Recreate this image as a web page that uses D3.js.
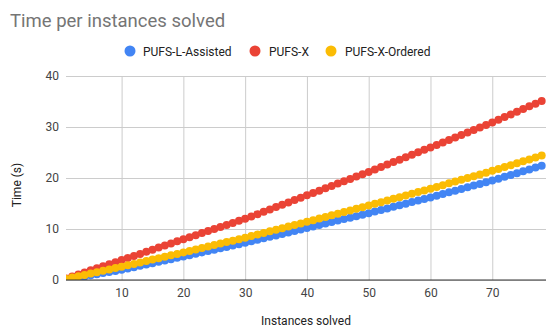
<!DOCTYPE html>
<html>
<head>
<meta charset="utf-8">
<script src="https://cdn.jsdelivr.net/npm/d3@7"></script>
<style>
  html, body { margin: 0; padding: 0; background: #fff; }
  svg { display: block; font-family: Roboto, "Liberation Sans", Arial, sans-serif; }
</style>
</head>
<body>
<svg id="chart" width="547" height="329"></svg>
<script>
// Instances solved (x) and cumulative time in seconds for each solver
const instances = d3.range(1, 79);

const pufsLAssisted = [
  0.05, 0.27, 0.48, 0.70, 0.92, 1.13, 1.35, 1.57, 1.78, 2.00,
  2.26, 2.52, 2.78, 3.04, 3.30, 3.56, 3.82, 4.08, 4.34, 4.60,
  4.87, 5.14, 5.41, 5.68, 5.95, 6.22, 6.49, 6.76, 7.03, 7.30,
  7.59, 7.88, 8.17, 8.46, 8.75, 9.04, 9.33, 9.62, 9.91, 10.20,
  10.49, 10.78, 11.07, 11.36, 11.65, 11.94, 12.23, 12.52, 12.81, 13.10,
  13.41, 13.72, 14.03, 14.34, 14.65, 14.96, 15.27, 15.58, 15.89, 16.20,
  16.53, 16.86, 17.19, 17.52, 17.85, 18.18, 18.51, 18.84, 19.17, 19.50,
  19.86, 20.23, 20.59, 20.95, 21.31, 21.68, 22.04, 22.40
];

const pufsX = [
  0.30, 0.69, 1.10, 1.49, 1.90, 2.30, 2.69, 3.10, 3.50, 3.90,
  4.31, 4.72, 5.12, 5.53, 5.94, 6.35, 6.76, 7.17, 7.58, 8.00,
  8.40, 8.79, 9.20, 9.60, 10.00, 10.41, 10.80, 11.20, 11.61, 12.00,
  12.45, 12.91, 13.37, 13.82, 14.29, 14.75, 15.21, 15.67, 16.13, 16.60,
  17.06, 17.52, 17.98, 18.44, 18.90, 19.36, 19.82, 20.28, 20.74, 21.20,
  21.68, 22.16, 22.64, 23.12, 23.60, 24.08, 24.56, 25.04, 25.52, 26.00,
  26.49, 26.98, 27.47, 27.96, 28.45, 28.94, 29.43, 29.92, 30.41, 30.90,
  31.42, 31.95, 32.47, 33.00, 33.52, 34.05, 34.57, 35.10
];

const pufsXOrdered = [
  0.20, 0.47, 0.73, 1.00, 1.27, 1.53, 1.80, 2.07, 2.33, 2.60,
  2.88, 3.16, 3.44, 3.72, 4.00, 4.28, 4.56, 4.84, 5.12, 5.40,
  5.69, 5.98, 6.27, 6.56, 6.85, 7.14, 7.43, 7.72, 8.01, 8.30,
  8.61, 8.92, 9.23, 9.54, 9.85, 10.16, 10.47, 10.78, 11.09, 11.40,
  11.72, 12.04, 12.36, 12.68, 13.00, 13.32, 13.64, 13.96, 14.28, 14.60,
  14.93, 15.26, 15.59, 15.92, 16.25, 16.58, 16.91, 17.24, 17.57, 17.90,
  18.25, 18.60, 18.95, 19.30, 19.65, 20.00, 20.35, 20.70, 21.05, 21.40,
  21.77, 22.15, 22.52, 22.90, 23.27, 23.65, 24.02, 24.40
];

const seriesNames = ["PUFS-L-Assisted", "PUFS-X", "PUFS-X-Ordered"];
const seriesColors = ["#4285f4", "#ea4335", "#fbbc04"];
const seriesValues = [pufsLAssisted, pufsX, pufsXOrdered];

const xTicks = [10, 20, 30, 40, 50, 60, 70];
const yTicks = [0, 10, 20, 30, 40];

const svg = d3.select("#chart");
const margin = { left: 66, right: 1, top: 76, bottom: 49 };
const W = 547, H = 329;

const x = d3.scaleLinear().domain([1, 78.7]).range([margin.left, W - margin.right]);
const y = d3.scaleLinear().domain([0, 40]).range([H - margin.bottom, margin.top]);

// Plot-area clip so edge points are cut at the frame
svg.append("defs").append("clipPath").attr("id", "plot-clip")
  .append("rect")
  .attr("x", margin.left).attr("y", margin.top - 10)
  .attr("width", W - margin.right - margin.left)
  .attr("height", H - margin.bottom - margin.top + 10);

// Title
svg.append("text")
  .attr("x", 10).attr("y", 27)
  .attr("font-size", 18.5)
  .attr("fill", "#757575")
  .text("Time per instances solved");

// Horizontal gridlines + y tick labels
const yAxis = d3.axisLeft(y).tickValues(yTicks).tickSize(-(W - margin.right - margin.left)).tickPadding(7);
const gy = svg.append("g").attr("transform", `translate(${margin.left},0)`).call(yAxis);
gy.select(".domain").remove();
gy.selectAll(".tick line").attr("stroke", "#cccccc").attr("stroke-width", 1);
gy.selectAll(".tick text").attr("font-size", 12).attr("fill", "#444").attr("font-family", "Roboto, 'Liberation Sans', Arial, sans-serif");

// Vertical gridlines + x tick labels
const xAxis = d3.axisBottom(x).tickValues(xTicks).tickSize(-(H - margin.bottom - margin.top)).tickPadding(8);
const gx = svg.append("g").attr("transform", `translate(0,${H - margin.bottom})`).call(xAxis);
gx.select(".domain").remove();
gx.selectAll(".tick line").attr("stroke", "#cccccc").attr("stroke-width", 1);
gx.selectAll(".tick text").attr("font-size", 12).attr("fill", "#444").attr("font-family", "Roboto, 'Liberation Sans', Arial, sans-serif");

// Scatter points: blue first, then red, then yellow on top
const pts = svg.append("g").attr("clip-path", "url(#plot-clip)");
[0, 1, 2].forEach(si => {
  pts.append("g")
    .selectAll("circle")
    .data(instances.map((d, i) => [d, seriesValues[si][i]]))
    .join("circle")
    .attr("cx", d => x(d[0]))
    .attr("cy", d => y(d[1]))
    .attr("r", 4)
    .attr("fill", seriesColors[si]);
});

// Baseline
svg.append("line")
  .attr("x1", margin.left).attr("x2", W - margin.right)
  .attr("y1", y(0)).attr("y2", y(0))
  .attr("stroke", "#333").attr("stroke-width", 1);

// Legend
const legendItems = [
  { cx: 130, tx: 143 },
  { cx: 255, tx: 269 },
  { cx: 331, tx: 345 }
];
const lg = svg.append("g");
seriesNames.forEach((name, i) => {
  lg.append("circle").attr("cx", legendItems[i].cx).attr("cy", 51).attr("r", 5.5).attr("fill", seriesColors[i]);
  lg.append("text").attr("x", legendItems[i].tx).attr("y", 55.5)
    .attr("font-size", 12).attr("fill", "#222").text(name);
});

// Axis titles
svg.append("text")
  .attr("x", (margin.left + W - margin.right) / 2).attr("y", 325)
  .attr("text-anchor", "middle").attr("font-size", 12).attr("fill", "#222")
  .text("Instances solved");

svg.append("text")
  .attr("transform", "translate(21,185) rotate(-90)")
  .attr("text-anchor", "middle").attr("font-size", 12).attr("fill", "#222")
  .text("Time (s)");
</script>
</body>
</html>
